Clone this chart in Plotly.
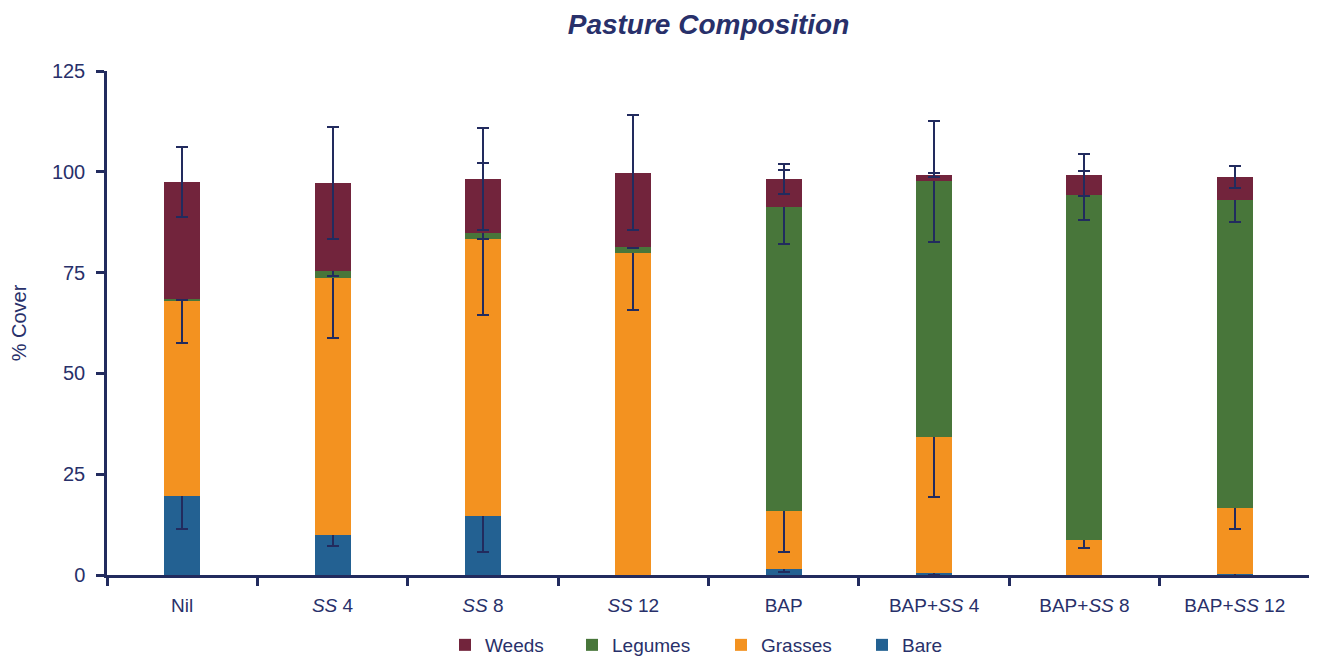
import plotly.graph_objects as go

categories = ["Nil", "<i>SS</i> 4", "<i>SS</i> 8", "<i>SS</i> 12", "BAP",
              "BAP+<i>SS</i> 4", "BAP+<i>SS</i> 8", "BAP+<i>SS</i> 12"]

bare = [19.7, 9.9, 14.6, 0.1, 1.5, 0.4, 0.0, 0.2]
grasses = [48.3, 63.8, 68.7, 79.8, 14.4, 33.8, 8.7, 16.4]
legumes = [0.5, 1.7, 1.4, 1.4, 75.4, 63.5, 85.5, 76.4]
weeds = [29.0, 21.8, 13.5, 18.5, 6.9, 1.5, 5.0, 5.7]

bare_err = [8.3, 2.7, 8.8, 0.2, 0.8, 0.5, 0.0, 0.6]
grasses_err = [10.5, 15.0, 18.8, 14.2, 10.1, 14.9, 2.0, 5.2]
legumes_err = [0.3, 1.25, 1.3, 0.3, 9.1, 15.0, 6.1, 5.5]
weeds_err = [8.6, 13.8, 12.6, 14.3, 3.8, 0.6, 5.2, 2.7]

NAVY = "#222B5E"
TEXT = "#28306A"
FONT = "Liberation Sans, Arial, sans-serif"

# The page body has an 8px default margin; work in figure pixels.
OFF = 8
W, H = 1317 - OFF, 656 - OFF
L, T = 107 - OFF, 71 - OFF          # plot area left / top
PR, PB = 1310 - OFF, 575 - OFF      # plot area right / bottom
R, B = W - PR, H - PB
PW, PH = PR - L, PB - T

series = [
    ("Bare", bare, bare_err, "#236192", "legend4"),
    ("Grasses", grasses, grasses_err, "#F39220", "legend3"),
    ("Legumes", legumes, legumes_err, "#48763A", "legend2"),
    ("Weeds", weeds, weeds_err, "#72243C", "legend"),
]

fig = go.Figure()
for name, vals, errs, col, lg in series:
    fig.add_trace(go.Bar(
        name=name, x=categories, y=vals, legend=lg,
        marker=dict(color=col, line=dict(width=0)),
        error_y=dict(type="data", array=errs, visible=True, color=NAVY,
                     thickness=2, width=6),
    ))

# legend symbol centres (screen pixels)
legend_px = {"legend": 465, "legend2": 592, "legend3": 741, "legend4": 882}
legend_y = -((645 - OFF) - PB) / PH


def leg(px):
    return dict(orientation="h", x=(px - OFF - 20 - L) / PW, xanchor="left",
                y=legend_y, yanchor="middle", font=dict(size=19, color=TEXT),
                bgcolor="rgba(0,0,0,0)")


fig.update_layout(
    barmode="stack",
    bargap=0.76,
    width=W, height=H,
    margin=dict(l=L, r=R, t=T, b=B, autoexpand=False),
    paper_bgcolor="white", plot_bgcolor="white",
    font=dict(family=FONT, color=TEXT, size=19),
    title=dict(text="<b><i>Pasture Composition</i></b>", xref="paper", x=0.5,
               xanchor="center", y=1 - (24 - OFF) / H, yanchor="middle",
               font=dict(size=28, color=TEXT, family=FONT)),
    legend=leg(legend_px["legend"]),
    legend2=leg(legend_px["legend2"]),
    legend3=leg(legend_px["legend3"]),
    legend4=leg(legend_px["legend4"]),
    showlegend=True,
)
fig.update_yaxes(
    range=[0, 125], tickvals=[0, 25, 50, 75, 100, 125], showgrid=False,
    showline=True, linecolor=NAVY, linewidth=2.5, ticks="outside", ticklen=8,
    tickwidth=2.5, tickcolor=NAVY, zeroline=False, automargin=False,
    title=dict(text="% Cover", font=dict(size=20, color=TEXT), standoff=22),
    tickfont=dict(size=20, color=TEXT), ticklabelstandoff=7,
)
fig.update_xaxes(
    showgrid=False, showline=True, linecolor=NAVY, linewidth=2.5,
    ticks="outside", tickson="boundaries", ticklen=8, tickwidth=2.5, tickcolor=NAVY,
    range=[-0.5, 7.5], tickfont=dict(size=19, color=TEXT), ticklabelstandoff=11,
    automargin=False,
)

fig.write_html("out.html")
